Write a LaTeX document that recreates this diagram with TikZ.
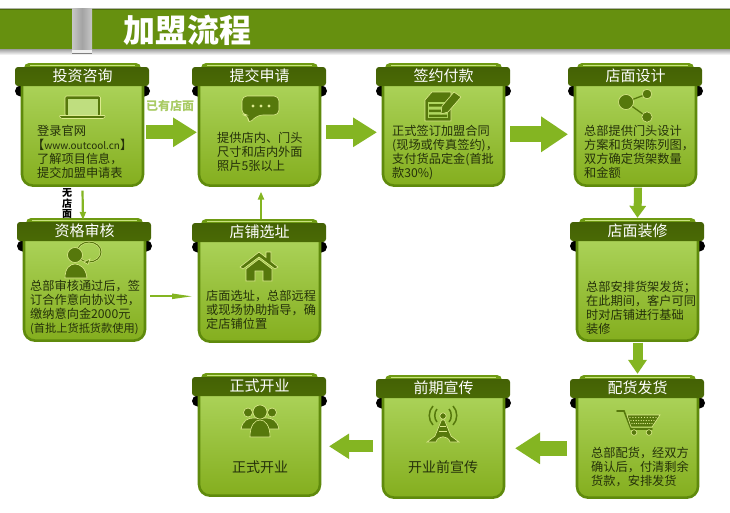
\documentclass[tikz,border=0pt]{standalone}
\usepackage{fontspec}
\setmainfont{Noto Sans CJK SC}
\usetikzlibrary{arrows.meta,calc}
\definecolor{bannerc}{HTML}{66900F}
\definecolor{headc}{HTML}{4A6A05}
\definecolor{rimc}{HTML}{6E9A12}
\definecolor{rimlight}{HTML}{C9E27E}
\definecolor{bodytop}{HTML}{AFD65F}
\definecolor{bodybot}{HTML}{84AE1E}
\definecolor{edgec}{HTML}{5F8A0C}
\definecolor{iconc}{HTML}{56780C}
\definecolor{iconedge}{HTML}{DDEB8F}
\definecolor{arrowc}{HTML}{84B522}
\definecolor{inkc}{HTML}{25310A}
\tikzset{
  x=1pt,y=-1pt,
  cardbody/.style={draw=edgec,line width=2.6pt,rounded corners=11pt,top color=bodytop,bottom color=bodybot,
    minimum width=121pt,minimum height=112.6pt,inner sep=0pt,outer sep=0pt,anchor=north west},
  cardtitle/.style={text=white,font=\fontsize{15}{15}\selectfont,inner sep=0pt},
  cardtext/.style={text=inkc,font=\fontsize{12.2}{14}\selectfont,align=left,inner sep=0pt,anchor=north west},
  cardline/.style={text=inkc,font=\fontsize{14}{14}\selectfont,inner sep=0pt},
  icon/.style={fill=iconc,draw=iconedge,line width=.6pt},
  bigarrow/.style n args={3}{draw=arrowc,line width=#1,-{Triangle[length=#2,width=#3]}},
  thinarrow/.style n args={3}{draw=arrowc,line width=#1,-{Triangle[length=#2,width=#3]}},
}
% one card: name, left, top, title
\newcommand{\flowcard}[4]{%
  \begin{scope}[shift={(#2,#3)}]
    \path[fill=rimc,rounded corners=5pt] (3,0) rectangle (120,14);
    \draw[rimlight,line width=.7pt] (9,2.5) -- (114,2.5);
    \fill[black] (-.5,28) circle (5.5) (123.5,28) circle (5.5);
    \node[cardbody] (#1) at (1,10) {};
    \path[top color=headc!92!black,bottom color=headc,rounded corners=3pt]
      (-6,23) -- (-6,4) -- (128,4) -- (128,23) -- cycle;
    \node[cardtitle] (#1t) at (61.5,13) {#4};
  \end{scope}}
\begin{document}
\begin{tikzpicture}
\useasboundingbox (0,0) rectangle (730,512);
\fill[white] (0,0) rectangle (730,512);

% title banner
\fill[top color=black!50,bottom color=white] (0,47) rectangle (730,55);
\fill[bannerc] (0,9) rectangle (730,48.5);
\fill[black!70!bannerc,opacity=.35] (0,8) rectangle (730,9.5);
\shade[left color=black!22,right color=black!22,middle color=black!36] (72,8) rectangle (92,49.5);
\fill[black!6] (72,49.5) rectangle (92,52.5);
\draw[black!50,line width=1pt] (72,53) -- (92,53);
\node[text=white,inner sep=0pt,font=\fontsize{32}{32}\bfseries\selectfont] (banner) at (187.5,30) {加盟流程};

% cards
\flowcard{c1}{21}{63}{投资咨询}
\flowcard{c2}{198}{63}{提交申请}
\flowcard{c3}{382}{63}{签约付款}
\flowcard{c4}{574}{63}{店面设计}
\flowcard{c5}{576}{218}{店面装修}
\flowcard{c6}{576}{375}{配货发货}
\flowcard{c7}{382}{375}{前期宣传}
\flowcard{c8}{198}{373}{正式开业}
\flowcard{c9}{23}{218}{资格审核}
\flowcard{c10}{198}{219}{店铺选址}

% card texts
\node[cardtext] (d1) at (37,124.5) {登录官网\\\hspace*{-5pt}【{\fontsize{10}{14}\selectfont www.outcool.cn}】\\了解项目信息，\\提交加盟申请表};
\node[cardtext] (d2) at (217,132.5) {提供店内、门头\\尺寸和店内外面\\照片5张以上};
\node[cardtext] (d3) at (392,124.5) {正式签订加盟合同\\(现场或传真签约)，\\支付货品定金(首批\\款30\%)};
\node[cardtext] (d4) at (584,124.5) {总部提供门头设计\\方案和货架陈列图，\\双方确定货架数量\\和金额};
\node[cardtext] (d5) at (586,280.5) {总部安排货架发货；\\在此期间，客户可同\\时对店铺进行基础\\装修};
\node[cardtext] (d6) at (591,446.5) {总部配货，经双方\\确认后，付清剩余\\货款，安排发货};
\node[cardline] (d7) at (443,467) {开业前宣传};
\node[cardline] (d8) at (260,467) {正式开业};
\node[cardtext] (d9) at (30,279.5) {总部审核通过后，签\\订合作意向协议书，\\缴纳意向金2000元\\{\fontsize{11.2}{14}\selectfont (首批上货抵货款使用)}};
\node[cardtext] (d10) at (206,289.5) {店面选址，总部远程\\或现场协助指导，确\\定店铺位置};

% connectors between cards
\draw[bigarrow={14pt}{24pt}{28pt}] ($(c1.east)+(3,3)$) -- ($(c2.west)+(-2,3)$);
\draw[bigarrow={14pt}{24pt}{28pt}] ($(c2.east)+(6,3)$) -- ($(c3.west)+(-6,3)$);
\draw[bigarrow={16pt}{27pt}{34pt}] ($(c3.east)+(6,5)$) -- ($(c4.west)+(-7,5)$);
\draw[bigarrow={8pt}{12pt}{16pt}] ($(c4.south)+(2.5,2)$) -- ($(c5t.north)+(0,-6)$);
\draw[bigarrow={10pt}{14pt}{18pt}] ($(c5.south)+(0,2)$) -- ($(c6t.north)+(0,-7)$);
\draw[bigarrow={15pt}{25pt}{30pt}] ($(c6.west)+(-10,7)$) -- ($(c7.east)+(11,7)$);
\draw[bigarrow={12pt}{20pt}{24pt}] ($(c7.west)+(-10,5)$) -- ($(c8.east)+(9,7)$);
\draw[thinarrow={2.2pt}{8pt}{6pt}] ($(c1.south)+(0,5)$) -- ($(c9t.north)+(-1.5,-4)$);
\draw[thinarrow={2pt}{21pt}{5pt}] ($(c9.east)+(5,12)$) -- ($(c10.west)+(-6,11)$);
\draw[thinarrow={2pt}{8pt}{6pt}] ($(c10t.north)+(1.5,-6)$) -- ($(c2.south)+(1.5,6)$);

% connector labels
\node[text=arrowc!70!white,inner sep=0pt,font=\fontsize{12}{12}\bfseries\selectfont] (lab1) at (170,106) {已有店面};
\node[text=black,inner sep=0pt,align=center,font=\fontsize{10}{10.2}\bfseries\selectfont] (lab2) at (67,203.5) {无\\店\\面};

% laptop icon
\path[icon,rounded corners=1.5pt] (65,96) -- (100.5,96) -- (100.5,116) -- (65,116) -- cycle;
\path[fill=bodytop!80!white] (67.5,98.5) rectangle (98,114.5);
\path[icon,rounded corners=1pt] (59,115.5) -- (105.5,115.5) -- (104,118.5) -- (61,118.5) -- cycle;

% speech bubble icon
\path[icon,rounded corners=5pt] (242,96) -- (279,96) -- (279,115) -- (258,115) -- (248,124) -- (248.5,115) -- (242,115) -- cycle;
\fill[iconedge] (253,106) circle (1.6) (261,106) circle (1.6) (269,106) circle (1.6);

% contract with pencil
\path[icon] (432,92) -- (451,92) -- (451,121) -- (425,121) -- (425,100) -- cycle;
\path[fill=bodytop] (428,102) rectangle (448,118);
\fill[iconc] (429,104) rectangle (443,106.5) (429,109.5) rectangle (447,112) (429,114.5) rectangle (447,117);
\path[icon] (454,92) -- (461,97) -- (448,112) -- (441,114) -- (442,106) -- cycle;

% share icon
\draw[iconc,line width=1.3pt] (647,94) -- (626,102) -- (647,117);
\path[icon] (626,102) circle (7.5) (647,94) circle (4.8) (647,117) circle (5.2);

% person with a speech ring
\draw[iconedge,line width=2pt] (89,252) ellipse (12 and 10);
\draw[iconc,line width=1pt] (89,252) ellipse (12 and 10);
\path[icon] (84,262) -- (90,259) -- (88,264.5) -- cycle;
\path[icon] (75,255) circle (7.5);
\path[icon] (65,278) .. controls (65,268) and (70,264) .. (75,264) .. controls (80,264) and (86,268) .. (87,278) -- cycle;

% house icon
\path[icon] (240,267) -- (259,252) -- (266,257.5) -- (266,252) -- (271,252) -- (271,261.5) -- (278,267) -- (275,269) -- (259,257) -- (243,269) -- cycle;
\path[icon] (246,269) -- (259,259) -- (272,269) -- (272,281) -- (263,281) -- (263,271) -- (255,271) -- (255,281) -- (246,281) -- cycle;

% shopping cart
\draw[iconc,line width=1.6pt,line cap=round] (617,411) -- (624,411) -- (631,429) -- (652,429);
\path[icon] (627,415) -- (660,415) -- (652,427) -- (631,427) -- cycle;
\foreach \r/\a/\b in {417.5/630/656,420.5/631/654,423.5/632/652}
  \foreach \q in {0,1,2,3,4,5,6,7,8,9}
    \fill[iconedge] ({\a+(\b-\a)*\q/9},\r) circle (.65);
\path[icon] (634,432.5) circle (2.8) (649,432.5) circle (2.8);

% signal tower
\draw[iconc,line width=1.5pt]
  (437,409) .. controls (434,412) and (434,419) .. (437,422)
  (433,406) .. controls (428,411) and (428,420) .. (433,425)
  (449,409) .. controls (452,412) and (452,419) .. (449,422)
  (453,406) .. controls (458,411) and (458,420) .. (453,425);
\path[icon] (443,416) circle (3.2);
\path[icon] (441.5,420) -- (444.5,420) -- (451,436) -- (459,442) -- (450,442) .. controls (448,435) and (438,435) .. (436,442) -- (427,442) -- (435,436) -- cycle;
\draw[iconedge,line width=.7pt] (440,426) -- (446,426) (439,431) -- (447,431);

% people group
\path[icon] (248,412.5) circle (4.5) (272,412.5) circle (4.5);
\path[icon] (241,429) .. controls (243,420) and (248,418) .. (254,418) -- (266,418) .. controls (272,418) and (277,420) .. (279,429) -- cycle;
\path[icon] (260,412) circle (7);
\path[icon] (250,437) .. controls (250,425) and (255,420) .. (260,420) .. controls (265,420) and (270,425) .. (270,437) -- cycle;
\end{tikzpicture}
\end{document}
